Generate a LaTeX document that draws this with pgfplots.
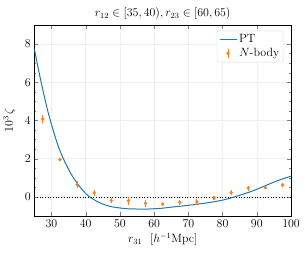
\documentclass[border=0pt]{standalone}
\usepackage{pgfplots}
\pgfplotsset{compat=1.18}
\definecolor{tabblue}{HTML}{1F77B4}
\definecolor{taborange}{HTML}{FF7F0E}
\begin{document}
\begin{tikzpicture}
\begin{axis}[
  name=main,
  scale only axis,
  width=258pt, height=192pt,
  font=\fontsize{12}{14}\selectfont,
  xmin=25, xmax=100, ymin=-1, ymax=9,
  xtick={30,40,50,60,70,80,90,100},
  ytick={0,2,4,6,8},
  minor y tick num=3,
  tick align=inside,
  xtick pos=both, ytick pos=both,
  major tick length=4pt, minor tick length=2pt,
  grid=major,
  major grid style={gray!12, line width=0.4pt},
  axis line style={line width=0.6pt},
  title={$r_{12}\in[35,40), r_{23}\in[60,65)$},
  title style={yshift=-4pt},
  xlabel={$r_{31}\ \ [h^{-1}\mathrm{Mpc}]$},
  ylabel={$10^3\,\zeta$},
  xlabel style={yshift=1pt},
  ylabel style={yshift=3pt},
  legend pos=north east,
  legend cell align=left,
  legend style={draw=gray!30, rounded corners=2pt, fill=white, inner sep=2pt, row sep=0pt, font=\fontsize{12}{14}\selectfont},
]
\addplot[black, dotted, line width=0.7pt, forget plot] coordinates {(25,0) (100,0)};
\addplot[tabblue, line width=1pt, smooth] coordinates {
(25,7.75) (26,6.85) (27,6.0) (28,5.2) (29,4.45) (30,3.8) (31,3.2) (32,2.65)
(33,2.2) (34,1.8) (35,1.45) (36,1.12) (37,0.85) (38,0.6) (39,0.38) (40,0.18)
(41,0.02) (42,-0.1) (44,-0.3) (46,-0.44) (48,-0.53) (50,-0.58) (52,-0.62)
(54,-0.63) (56,-0.64) (58,-0.64) (60,-0.62) (62,-0.6) (64,-0.56) (66,-0.52)
(68,-0.48) (70,-0.44) (72,-0.4) (74,-0.35) (76,-0.3) (78,-0.24) (80,-0.17)
(82,-0.08) (84,0.03) (86,0.14) (88,0.26) (90,0.4) (92,0.55) (94,0.7)
(96,0.84) (98,0.97) (100,1.08)
};
\addlegendentry{PT}
\addplot[taborange, only marks, mark=*, mark size=1.5pt,
  legend image code/.code={
    \draw[taborange, line width=1pt] (0.3cm,-0.16cm) -- (0.3cm,0.16cm);
    \fill[taborange] (0.3cm,0cm) circle (1.5pt);
  },
  error bars/.cd, y dir=both, y explicit, error bar style={line width=1.1pt}, error mark=none]
  table[x=x, y=y, y error=e] {
x y e
27.5 4.08 0.2
32.5 1.95 0.08
37.5 0.63 0.18
42.5 0.21 0.14
47.5 -0.19 0.13
52.5 -0.2 0.2
57.5 -0.34 0.2
62.5 -0.38 0.1
67.5 -0.29 0.13
72.5 -0.26 0.15
77.5 -0.05 0.12
82.5 0.23 0.13
87.5 0.46 0.13
92.5 0.48 0.08
97.5 0.62 0.12
};
\addlegendentry{$N$-body}
\end{axis}
\path (main.south west) ++(-33pt,-41pt) coordinate (bl);
\path (main.north east) ++(14pt,25pt) coordinate (tr);
\path[use as bounding box] (bl) rectangle (tr);
\end{tikzpicture}
\end{document}
